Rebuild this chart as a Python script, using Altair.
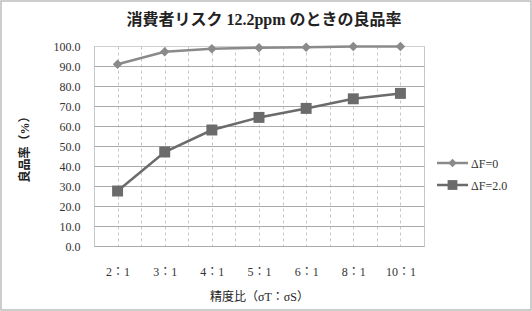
import altair as alt
import pandas as pd

categories = ["2：1", "3：1", "4：1", "5：1", "6：1", "8：1", "10：1"]
series_names = ["ΔF=0", "ΔF=2.0"]
values_f0 = [90.9, 97.1, 98.6, 99.1, 99.4, 99.7, 99.8]
values_f2 = [27.5, 47.0, 58.0, 64.3, 68.8, 73.6, 76.3]
chart_title = ["消費者リスク 12.2ppm のときの良品率"]

rows = []
for i, c in enumerate(categories):
    rows.append({"idx": i, "cat": c, "series": series_names[0], "val": values_f0[i]})
    rows.append({"idx": i, "cat": c, "series": series_names[1], "val": values_f2[i]})
df = pd.DataFrame(rows)

SERIF = "Liberation Serif, Noto Sans CJK JP"
label_arr = "[" + ",".join("'" + c + "'" for c in categories) + "]"
grid_vals = [x / 2 for x in range(-1, 14)]

line_colors = ["#8a8a8a", "#6b6b6b"]
marker_shapes = ["diamond", "square"]
marker_sizes = [90, 120]

x_enc = alt.X(
    "idx:Q",
    scale=alt.Scale(domain=[-0.5, 6.5], nice=False, zero=False),
    axis=alt.Axis(
        values=grid_vals,
        labelExpr=f"datum.value % 1 == 0 ? {label_arr}[datum.value] : ''",
        labelOverlap=False,
        title="精度比（σT：σS）",
        grid=True,
        gridDash=[3, 3],
        gridColor="#c8c8c8",
        ticks=False,
        domain=False,
        labelPadding=20,
        labelFont=SERIF,
        labelFontSize=12,
        labelColor="#333333",
        titleFont=SERIF,
        titleFontSize=12,
        titleFontWeight="normal",
        titleColor="#222222",
        titlePadding=14,
    ),
)
y_enc = alt.Y(
    "val:Q",
    scale=alt.Scale(domain=[0, 100], nice=False),
    axis=alt.Axis(
        values=list(range(0, 101, 10)),
        format=".1f",
        labelOverlap=False,
        title="良品率（%）",
        grid=True,
        gridColor=alt.expr("datum.value >= 100 ? '#d0d0d0' : '#a9a9a9'"),
        ticks=False,
        domain=False,
        labelPadding=14,
        labelFont=SERIF,
        labelFontSize=12,
        labelColor="#333333",
        titleFont=SERIF,
        titleFontSize=12,
        titleFontWeight="bold",
        titleColor="#222222",
        titlePadding=22,
    ),
)
color_enc = alt.Color("series:N", scale=alt.Scale(domain=series_names, range=line_colors), legend=None)

base = alt.Chart(df).encode(x=x_enc, y=y_enc)

layers = [base.mark_line(strokeWidth=2.5).encode(color=color_enc, detail="series:N")]

for i, s in enumerate(series_names):
    layers.append(
        base.transform_filter(alt.datum.series == s).mark_point(
            shape=marker_shapes[i], filled=True, size=marker_sizes[i], opacity=1, color=line_colors[i]
        )
    )

# legend drawn manually (line + marker + label)
for i, s in enumerate(series_names):
    leg = alt.Chart(pd.DataFrame({"series": [s]}))
    ly = 117 + 22 * i
    layers.append(
        leg.mark_rule(strokeWidth=2.5, color=line_colors[i]).encode(
            x=alt.value(343), x2=alt.value(374), y=alt.value(ly)
        )
    )
    layers.append(
        leg.mark_point(
            shape=marker_shapes[i], filled=True, size=marker_sizes[i] * 0.8, opacity=1, color=line_colors[i]
        ).encode(x=alt.value(358.5), y=alt.value(ly))
    )
    layers.append(
        leg.mark_text(
            font=SERIF, fontSize=12, color="#333333", align="left", baseline="middle"
        ).encode(text="series:N", x=alt.value(377), y=alt.value(ly + 1))
    )

layers.append(
    alt.Chart(pd.DataFrame({"t": chart_title})).mark_text(
        font=SERIF, fontSize=16, fontWeight="bold", color="#222222", align="center", baseline="middle"
    ).encode(text="t:N", x=alt.value(170), y=alt.value(-26))
)

layers.append(
    alt.Chart(pd.DataFrame({"k": [0]})).mark_rect(
        fill=None, stroke="#bdbdbd", strokeWidth=1.5
    ).encode(x=alt.value(-93), x2=alt.value(437), y=alt.value(-45), y2=alt.value(264))
)

chart = (
    alt.layer(*layers)
    .properties(
        width=330,
        height=200,
        autosize=alt.AutoSizeParams(type="none"),
        padding={"left": 94, "top": 46, "right": 108, "bottom": 65},
        background="white",
    )
    .configure_view(stroke="#c8c8c8", strokeWidth=1)
)

chart.save("out.html", embed_options={"renderer": "svg", "actions": False})
